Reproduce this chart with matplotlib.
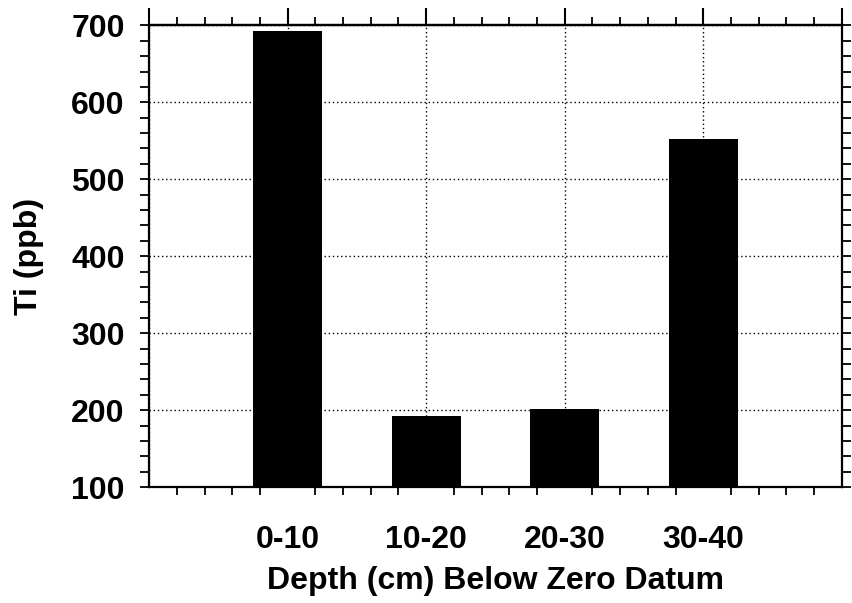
import matplotlib
matplotlib.use('Agg')
import matplotlib.pyplot as plt
import numpy as np
from matplotlib.ticker import MultipleLocator

# Ti concentration per depth interval
depths = ['0-10', '10-20', '20-30', '30-40']
ti_ppb = [692, 193, 202, 552]

plt.rcParams['font.family'] = ['Liberation Sans', 'DejaVu Sans']
plt.rcParams['font.weight'] = 'bold'

fig = plt.figure(figsize=(8.52, 6.03), dpi=100)
ax = fig.add_axes([0.175, 0.192, 0.813, 0.766])

pos = np.arange(1, len(depths) + 1)
ax.bar(pos, ti_ppb, width=0.5, color='black', zorder=2)

ax.set_xlim(0, 5)
ax.set_ylim(100, 700)

# gridlines under the bars
ax.set_axisbelow(True)
ax.grid(True, which='major', color='black', linestyle=(0, (1, 2)), linewidth=1.0)

ax.set_xticks(range(0, 6))
ax.set_xticklabels([''] + depths + [''], fontsize=23, fontweight='bold')
ax.xaxis.set_minor_locator(MultipleLocator(0.2))
ax.tick_params(axis='x', which='major', length=0, pad=27)
ax.tick_params(axis='x', which='minor', direction='out', length=6, width=1.3)

ax.yaxis.set_major_locator(MultipleLocator(100))
ax.yaxis.set_minor_locator(MultipleLocator(20))
ax.tick_params(axis='y', which='both', left=True, right=True, direction='out',
               length=6.5, width=1.3, labelsize=23, pad=11)
for t in ax.get_yticklabels():
    t.set_fontweight('bold')

# top axis carries the long major ticks
top = ax.secondary_xaxis('top')
top.set_xticks(range(0, 6))
top.xaxis.set_minor_locator(MultipleLocator(0.2))
top.tick_params(axis='x', which='major', direction='out', length=12, width=1.5, labeltop=False)
top.tick_params(axis='x', which='minor', direction='out', length=6, width=1.3)
top.spines['top'].set_linewidth(1.6)

for s in ax.spines.values():
    s.set_linewidth(1.6)

ax.set_ylabel('Ti (ppb)', fontsize=23, fontweight='bold', labelpad=20)
ax.set_xlabel('Depth (cm) Below Zero Datum', fontsize=23, fontweight='bold', labelpad=8)

fig.savefig('out.png', dpi=100)
